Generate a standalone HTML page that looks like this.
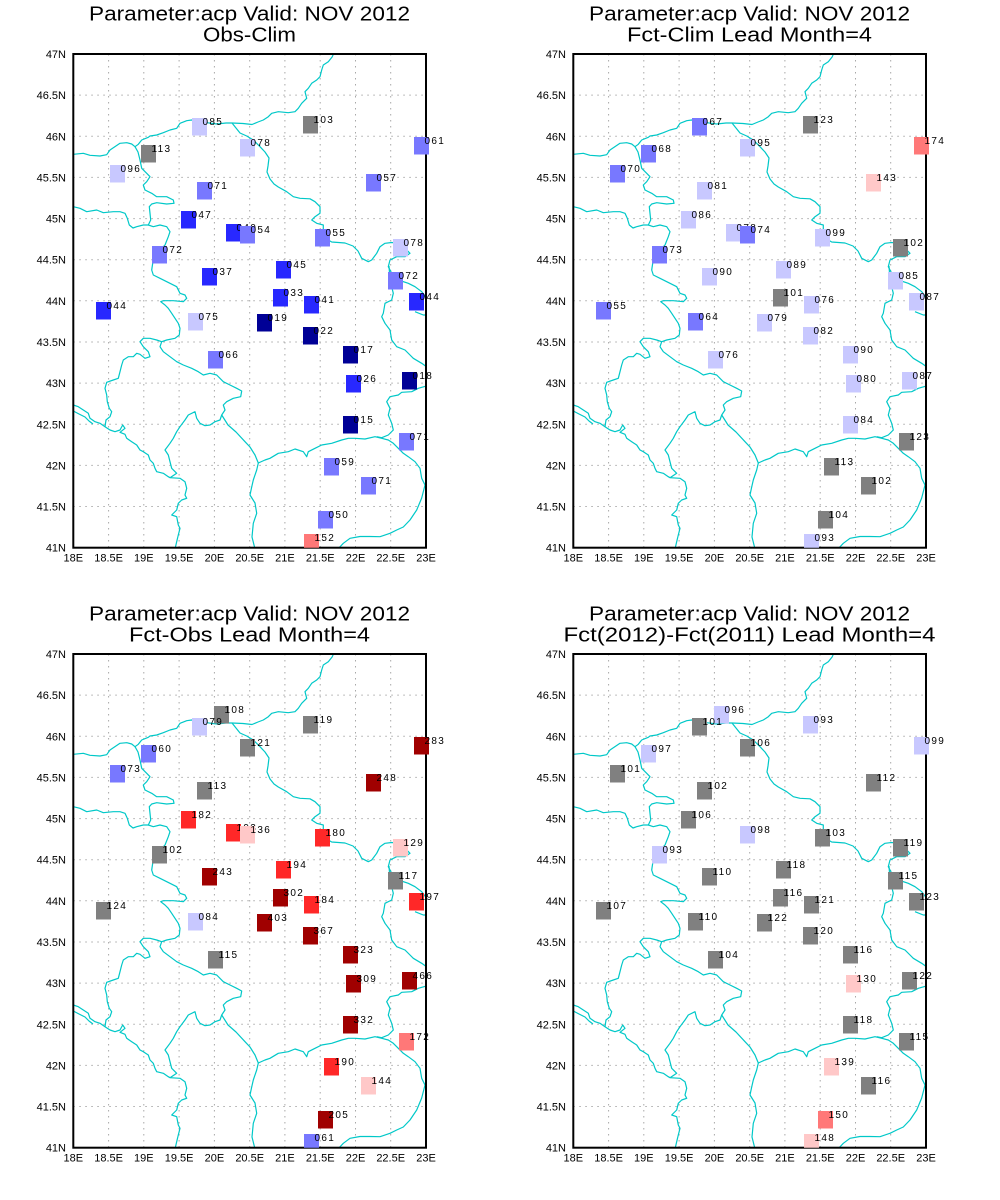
<!DOCTYPE html>
<html><head><meta charset="utf-8"><style>
html,body{margin:0;padding:0;background:#fff;}
svg{display:block;font-family:"Liberation Sans",sans-serif;}
.t1{font-size:20px;fill:#000;}
.yl{font-size:11px;text-anchor:end;}
.xl{font-size:11px;text-anchor:middle;}
.s{font-size:10px;letter-spacing:1.3px;fill:#000;}
.lv{fill:#c8c8ff}.md{fill:#7878ff}.br{fill:#2828ff}.nv{fill:#000096}.gr{fill:#808080}
.lp{fill:#ffc8c8}.sa{fill:#ff7878}.rd{fill:#ff2828}.dr{fill:#a00000}
</style></head><body>
<svg width="1000" height="1200" viewBox="0 0 1000 1200" xmlns="http://www.w3.org/2000/svg" xmlns:xlink="http://www.w3.org/1999/xlink">
<rect width="1000" height="1200" fill="#fff"/>
<defs>
<clipPath id="pc"><rect x="73.3" y="54" width="352.7" height="493.7"/></clipPath>
<clipPath id="sc"><rect x="40" y="40" width="440" height="507.7"/></clipPath>
<path id="grid" fill="none" stroke="#a8a8a8" stroke-width="1" stroke-dasharray="1.5 4.5" d="M108.6 54V547.7M143.8 54V547.7M179.1 54V547.7M214.4 54V547.7M249.7 54V547.7M284.9 54V547.7M320.2 54V547.7M355.5 54V547.7M390.7 54V547.7M73.3 95.1H426M73.3 136.3H426M73.3 177.4H426M73.3 218.6H426M73.3 259.7H426M73.3 300.8H426M73.3 342H426M73.3 383.1H426M73.3 424.3H426M73.3 465.4H426M73.3 506.5H426"/>
<g id="map" fill="none" stroke="#00c8c8" stroke-width="1.2" stroke-linejoin="round">
<polyline points="73.3,154.3 83.3,153.3 90,155.3 100,156 106.7,154.7 110,150 120,143.3 126.7,142.7 131.7,144 135,146.7 138.3,144.3 141.7,140 148.3,137.3 150,136 156.7,135 163.3,132.7 170,130 176.7,128.3 180,123.3 186.7,120.7 191.7,120 200,121 206.7,122.7 216.7,124 226,123 232,123 243,123.5 252,124.5 258,122 263.3,120 268.3,116.7 271.7,113.3 278.3,111.7 288.3,112.7 295,111.7 298.3,108.3 301.7,103.3 306.7,98.3 305,91.7 308.3,88.3 311.7,83.3 316.7,80 320,76.7 321.7,70 323.3,65 328.3,61.7 332.3,56.7 334.3,52"/>
<polyline points="232,123 236,128 240,133 246.7,136 253.3,140 260,146.7 265,152 269,158 268,166 267,172 270,179 274,184 278.3,187 286.7,191.7 293.3,196.7 300,198.3 310,198.8 315,201.7 320,206.7 320,213.3 315,216.7 311.7,220 316.7,223.3 323.3,225 323.3,231.7 325,238 331.7,242 345,243 353,246 358,251 361.7,258.3 368.3,261.7 371.7,260 376.7,253.3 380,246.7 385,243.3 391.7,242.5 398.3,243.3 405,248.3 410,253.3 405,256.7 396.7,256.7 390,260 388.3,266.7 391.7,273.3 398.3,280 408.3,283.3 415,286.7 421.7,291.7 426.7,298.3"/>
<polyline points="389,266 390,280 393.3,293.3 391.7,300 385,303.3 383.3,313.3 381.7,316.7 385,323.3 390,330 391.7,340 396.7,346.7 405,350 410,355 413.3,358.3 421.7,363.3 426.5,366.7"/>
<polyline points="415,311.7 423.3,315 426.5,315"/>
<polyline points="426.5,386 418.3,388.3 411.7,391.7 401.7,392.3 398.3,395 390,396.7 386.7,401.7 390,408.3 388.3,415 391.7,423.3 393.3,430 388.3,435 381.7,437.7 376.7,436.7"/>
<polyline points="135,146.7 138,152 140,160 141.7,168.3 146.7,173.3 150,176.7 146.7,181.7 143.3,185 145,190 151.7,193.3 156.7,196.7 166.7,196.7 173.3,200 174,203.3 166.7,204 156.7,202.7 151.7,204 149.3,206.7 150,213.3 150.7,220 148.3,225 153.3,226.7 160,225 166.7,226.7 170,231.7 168.3,236.7 165,245 156.7,253.3 152.7,263.3 151.7,270 153.3,275 160,278.3 170,283.3 176.7,286.7 180,293.3 185,295 186.7,298.3 183.3,301.7 173.3,300.7 163.3,300.7 160.7,301.7 165,305 168.3,308.3 171.7,313.3 175,318.3 178.3,323.3 180,328.3 179.3,335 175,338.3 166.7,340 161.7,341.7 160,346.7 163.3,351.7 170,356.7 176.7,361.7 183.3,365 191.7,368.3 198.3,371.7 203.3,375 210,373.3 216.7,375 223.3,381.7 230,385 236.7,388.3 241.7,391 240.7,396.7 233.3,398.3 226.7,401.7 223.3,405 225,410 221.7,415 220,420 215,421.7 210,425 205,425.7 200,423.3 196.7,418.3 195,411.7 188.3,415 185,420 180,426.7 176.7,431.7 173.3,438.3 170,443.3 165,450 168.3,455 170,461.7 171.7,468.3 176.7,473.3 170,477.7"/>
<polyline points="73.3,206.7 80,208.3 86.7,211.7 96.7,210 103.3,212.7 113.3,211.7 120,211.7 125,213.3 127.3,218.3 129.3,225 133,228 136.7,226.7 143.3,225 148.3,225"/>
<polyline points="161.7,341.7 156.7,340 150,338.3 143.3,338.3 140,341.7 143.3,346.7 148.3,351.7 150,356.7 145,358.3 140,354.3 136.7,353.3 133.3,356.7 128.3,356.7 123.3,360 121.7,365 120,371.7 118.3,378.3 113.3,380 106.7,382.3 105,388.3 106.7,395 107.3,401.7 109.3,408.3 111.7,411.7 110,416.7 106,420 105,426.7"/>
<polyline points="73.3,405 78.3,406.7 83.3,410 88.3,413.3 90,418.3 95,421.7 100,423.3 105,426.7 110,430 115,431.7 120,430 122.7,425 125,428.3 120,432.3 125,434.3 126.7,438.3 131.7,441.7 136.7,445 140,450 143.3,451.7 148.3,455 150,460 153.3,463.3 155,468.3 156.7,471.7 163.3,473.3 168.3,476.7 170,477.7 180,478.3 185,481.7 186.7,488.3 185,495 186.7,498.3 181.7,500 178.3,503.3 176.7,510 171.7,515 176.7,516.7 178.3,525 180,528.3 178.3,535 176.7,541.7 175,549"/>
<polyline points="73.3,411 79,414 85,417 89,421 93,424"/>
<polyline points="221.7,415 228,425 236,432 245,441.7 250,447 255,455 258.3,463 256.7,470 253.3,480 251.7,487 250,495 255,503 256.7,513.3 253.3,523.3 252,537 255,549"/>
<polyline points="258.3,463 265,460 270,458.3 278.3,453.3 288.3,451.7 295,449 303.3,451.7 306.7,456.7 308.3,451.7 315,448.3 321.7,445 331.7,443.3 341.7,440 348.3,438.3 355,438.3 365,439 375,436.7 381.7,438.3 388.3,440 393.3,443.3 398.3,448.3 403.3,453.3 408.3,456.7 415,461.7 420,468.3 421.7,478.3 425,485 421.7,498 416.7,510 410,520 403.3,527 396.7,530 390,533.3 380,536.7 370,536.5 360,536.5 350,538.3 343.3,543.3 338,549"/>
</g>
</defs>

<!-- ============ PANEL 1 ============ -->
<g>
<text class="t1" x="249.5" y="20.7" text-anchor="middle" textLength="321" lengthAdjust="spacingAndGlyphs">Parameter:acp Valid: NOV 2012</text>
<text class="t1" x="249.5" y="41.7" text-anchor="middle" textLength="93" lengthAdjust="spacingAndGlyphs">Obs-Clim</text>
<use xlink:href="#grid" href="#grid"/>
<use xlink:href="#map" href="#map" clip-path="url(#pc)"/>
<rect x="73.3" y="54" width="352.7" height="493.7" fill="none" stroke="#000" stroke-width="2"/>
<g class="yl"><text x="66" y="58">47N</text><text x="66" y="99.1">46.5N</text><text x="66" y="140.3">46N</text><text x="66" y="181.4">45.5N</text><text x="66" y="222.6">45N</text><text x="66" y="263.7">44.5N</text><text x="66" y="304.8">44N</text><text x="66" y="346">43.5N</text><text x="66" y="387.1">43N</text><text x="66" y="428.3">42.5N</text><text x="66" y="469.4">42N</text><text x="66" y="510.5">41.5N</text><text x="66" y="551.7">41N</text></g>
<g class="xl"><text x="73.3" y="561.7">18E</text><text x="108.6" y="561.7">18.5E</text><text x="143.8" y="561.7">19E</text><text x="179.1" y="561.7">19.5E</text><text x="214.4" y="561.7">20E</text><text x="249.7" y="561.7">20.5E</text><text x="284.9" y="561.7">21E</text><text x="320.2" y="561.7">21.5E</text><text x="355.5" y="561.7">22E</text><text x="390.7" y="561.7">22.5E</text><text x="426" y="561.7">23E</text></g>
<g clip-path="url(#sc)">
<rect class="lv" x="192" y="118" width="15" height="17.5"/><text class="s" x="202.5" y="125">085</text>
<rect class="gr" x="303" y="116" width="15" height="17.5"/><text class="s" x="313.5" y="123">103</text>
<rect class="md" x="414" y="137" width="15" height="17.5"/><text class="s" x="424.5" y="144">061</text>
<rect class="gr" x="141" y="145" width="15" height="17.5"/><text class="s" x="151.5" y="152">113</text>
<rect class="lv" x="240" y="139" width="15" height="17.5"/><text class="s" x="250.5" y="146">078</text>
<rect class="lv" x="110" y="165" width="15" height="17.5"/><text class="s" x="120.5" y="172">096</text>
<rect class="md" x="197" y="182" width="15" height="17.5"/><text class="s" x="207.5" y="189">071</text>
<rect class="md" x="366" y="174" width="15" height="17.5"/><text class="s" x="376.5" y="181">057</text>
<rect class="br" x="181" y="211" width="15" height="17.5"/><text class="s" x="191.5" y="218">047</text>
<rect class="br" x="226" y="224" width="15" height="17.5"/><text class="s" x="236.5" y="231">040</text>
<rect class="md" x="240" y="226" width="15" height="17.5"/><text class="s" x="250.5" y="233">054</text>
<rect class="md" x="315" y="229" width="15" height="17.5"/><text class="s" x="325.5" y="236">055</text>
<rect class="lv" x="393" y="239" width="15" height="17.5"/><text class="s" x="403.5" y="246">078</text>
<rect class="md" x="152" y="246" width="15" height="17.5"/><text class="s" x="162.5" y="253">072</text>
<rect class="br" x="202" y="268" width="15" height="17.5"/><text class="s" x="212.5" y="275">037</text>
<rect class="br" x="276" y="261" width="15" height="17.5"/><text class="s" x="286.5" y="268">045</text>
<rect class="md" x="388" y="272" width="15" height="17.5"/><text class="s" x="398.5" y="279">072</text>
<rect class="br" x="273" y="289" width="15" height="17.5"/><text class="s" x="283.5" y="296">033</text>
<rect class="br" x="304" y="296" width="15" height="17.5"/><text class="s" x="314.5" y="303">041</text>
<rect class="br" x="409" y="293" width="15" height="17.5"/><text class="s" x="419.5" y="300">044</text>
<rect class="br" x="96" y="302" width="15" height="17.5"/><text class="s" x="106.5" y="309">044</text>
<rect class="lv" x="188" y="313" width="15" height="17.5"/><text class="s" x="198.5" y="320">075</text>
<rect class="nv" x="257" y="314" width="15" height="17.5"/><text class="s" x="267.5" y="321">019</text>
<rect class="nv" x="303" y="327" width="15" height="17.5"/><text class="s" x="313.5" y="334">022</text>
<rect class="md" x="208" y="351" width="15" height="17.5"/><text class="s" x="218.5" y="358">066</text>
<rect class="nv" x="343" y="346" width="15" height="17.5"/><text class="s" x="353.5" y="353">017</text>
<rect class="br" x="346" y="375" width="15" height="17.5"/><text class="s" x="356.5" y="382">026</text>
<rect class="nv" x="402" y="372" width="15" height="17.5"/><text class="s" x="412.5" y="379">018</text>
<rect class="nv" x="343" y="416" width="15" height="17.5"/><text class="s" x="353.5" y="423">015</text>
<rect class="md" x="399" y="433" width="15" height="17.5"/><text class="s" x="409.5" y="440">071</text>
<rect class="md" x="324" y="458" width="15" height="17.5"/><text class="s" x="334.5" y="465">059</text>
<rect class="md" x="361" y="477" width="15" height="17.5"/><text class="s" x="371.5" y="484">071</text>
<rect class="md" x="318" y="511" width="15" height="17.5"/><text class="s" x="328.5" y="518">050</text>
<rect class="sa" x="304" y="534" width="15" height="17.5"/><text class="s" x="314.5" y="541">152</text>
</g>
</g>

<!-- ============ PANEL 2 ============ -->
<g transform="translate(500,0)">
<text class="t1" x="249.5" y="20.7" text-anchor="middle" textLength="321" lengthAdjust="spacingAndGlyphs">Parameter:acp Valid: NOV 2012</text>
<text class="t1" x="249.5" y="41.7" text-anchor="middle" textLength="245" lengthAdjust="spacingAndGlyphs">Fct-Clim Lead Month=4</text>
<use xlink:href="#grid" href="#grid"/>
<use xlink:href="#map" href="#map" clip-path="url(#pc)"/>
<rect x="73.3" y="54" width="352.7" height="493.7" fill="none" stroke="#000" stroke-width="2"/>
<g class="yl"><text x="66" y="58">47N</text><text x="66" y="99.1">46.5N</text><text x="66" y="140.3">46N</text><text x="66" y="181.4">45.5N</text><text x="66" y="222.6">45N</text><text x="66" y="263.7">44.5N</text><text x="66" y="304.8">44N</text><text x="66" y="346">43.5N</text><text x="66" y="387.1">43N</text><text x="66" y="428.3">42.5N</text><text x="66" y="469.4">42N</text><text x="66" y="510.5">41.5N</text><text x="66" y="551.7">41N</text></g>
<g class="xl"><text x="73.3" y="561.7">18E</text><text x="108.6" y="561.7">18.5E</text><text x="143.8" y="561.7">19E</text><text x="179.1" y="561.7">19.5E</text><text x="214.4" y="561.7">20E</text><text x="249.7" y="561.7">20.5E</text><text x="284.9" y="561.7">21E</text><text x="320.2" y="561.7">21.5E</text><text x="355.5" y="561.7">22E</text><text x="390.7" y="561.7">22.5E</text><text x="426" y="561.7">23E</text></g>
<g clip-path="url(#sc)">
<rect class="md" x="192" y="118" width="15" height="17.5"/><text class="s" x="202.5" y="125">067</text>
<rect class="gr" x="303" y="116" width="15" height="17.5"/><text class="s" x="313.5" y="123">123</text>
<rect class="sa" x="414" y="137" width="15" height="17.5"/><text class="s" x="424.5" y="144">174</text>
<rect class="md" x="141" y="145" width="15" height="17.5"/><text class="s" x="151.5" y="152">068</text>
<rect class="lv" x="240" y="139" width="15" height="17.5"/><text class="s" x="250.5" y="146">095</text>
<rect class="md" x="110" y="165" width="15" height="17.5"/><text class="s" x="120.5" y="172">070</text>
<rect class="lv" x="197" y="182" width="15" height="17.5"/><text class="s" x="207.5" y="189">081</text>
<rect class="lp" x="366" y="174" width="15" height="17.5"/><text class="s" x="376.5" y="181">143</text>
<rect class="lv" x="181" y="211" width="15" height="17.5"/><text class="s" x="191.5" y="218">086</text>
<rect class="lv" x="226" y="224" width="15" height="17.5"/><text class="s" x="236.5" y="231">078</text>
<rect class="md" x="240" y="226" width="15" height="17.5"/><text class="s" x="250.5" y="233">074</text>
<rect class="lv" x="315" y="229" width="15" height="17.5"/><text class="s" x="325.5" y="236">099</text>
<rect class="gr" x="393" y="239" width="15" height="17.5"/><text class="s" x="403.5" y="246">102</text>
<rect class="md" x="152" y="246" width="15" height="17.5"/><text class="s" x="162.5" y="253">073</text>
<rect class="lv" x="202" y="268" width="15" height="17.5"/><text class="s" x="212.5" y="275">090</text>
<rect class="lv" x="276" y="261" width="15" height="17.5"/><text class="s" x="286.5" y="268">089</text>
<rect class="lv" x="388" y="272" width="15" height="17.5"/><text class="s" x="398.5" y="279">085</text>
<rect class="gr" x="273" y="289" width="15" height="17.5"/><text class="s" x="283.5" y="296">101</text>
<rect class="lv" x="304" y="296" width="15" height="17.5"/><text class="s" x="314.5" y="303">076</text>
<rect class="lv" x="409" y="293" width="15" height="17.5"/><text class="s" x="419.5" y="300">087</text>
<rect class="md" x="96" y="302" width="15" height="17.5"/><text class="s" x="106.5" y="309">055</text>
<rect class="md" x="188" y="313" width="15" height="17.5"/><text class="s" x="198.5" y="320">064</text>
<rect class="lv" x="257" y="314" width="15" height="17.5"/><text class="s" x="267.5" y="321">079</text>
<rect class="lv" x="303" y="327" width="15" height="17.5"/><text class="s" x="313.5" y="334">082</text>
<rect class="lv" x="208" y="351" width="15" height="17.5"/><text class="s" x="218.5" y="358">076</text>
<rect class="lv" x="343" y="346" width="15" height="17.5"/><text class="s" x="353.5" y="353">090</text>
<rect class="lv" x="346" y="375" width="15" height="17.5"/><text class="s" x="356.5" y="382">080</text>
<rect class="lv" x="402" y="372" width="15" height="17.5"/><text class="s" x="412.5" y="379">087</text>
<rect class="lv" x="343" y="416" width="15" height="17.5"/><text class="s" x="353.5" y="423">084</text>
<rect class="gr" x="399" y="433" width="15" height="17.5"/><text class="s" x="409.5" y="440">123</text>
<rect class="gr" x="324" y="458" width="15" height="17.5"/><text class="s" x="334.5" y="465">113</text>
<rect class="gr" x="361" y="477" width="15" height="17.5"/><text class="s" x="371.5" y="484">102</text>
<rect class="gr" x="318" y="511" width="15" height="17.5"/><text class="s" x="328.5" y="518">104</text>
<rect class="lv" x="304" y="534" width="15" height="17.5"/><text class="s" x="314.5" y="541">093</text>
</g>
</g>

<!-- ============ PANEL 3 ============ -->
<g transform="translate(0,600)">
<text class="t1" x="249.5" y="20.7" text-anchor="middle" textLength="321" lengthAdjust="spacingAndGlyphs">Parameter:acp Valid: NOV 2012</text>
<text class="t1" x="249.5" y="41.7" text-anchor="middle" textLength="241" lengthAdjust="spacingAndGlyphs">Fct-Obs Lead Month=4</text>
<use xlink:href="#grid" href="#grid"/>
<use xlink:href="#map" href="#map" clip-path="url(#pc)"/>
<rect x="73.3" y="54" width="352.7" height="493.7" fill="none" stroke="#000" stroke-width="2"/>
<g class="yl"><text x="66" y="58">47N</text><text x="66" y="99.1">46.5N</text><text x="66" y="140.3">46N</text><text x="66" y="181.4">45.5N</text><text x="66" y="222.6">45N</text><text x="66" y="263.7">44.5N</text><text x="66" y="304.8">44N</text><text x="66" y="346">43.5N</text><text x="66" y="387.1">43N</text><text x="66" y="428.3">42.5N</text><text x="66" y="469.4">42N</text><text x="66" y="510.5">41.5N</text><text x="66" y="551.7">41N</text></g>
<g class="xl"><text x="73.3" y="561.7">18E</text><text x="108.6" y="561.7">18.5E</text><text x="143.8" y="561.7">19E</text><text x="179.1" y="561.7">19.5E</text><text x="214.4" y="561.7">20E</text><text x="249.7" y="561.7">20.5E</text><text x="284.9" y="561.7">21E</text><text x="320.2" y="561.7">21.5E</text><text x="355.5" y="561.7">22E</text><text x="390.7" y="561.7">22.5E</text><text x="426" y="561.7">23E</text></g>
<g clip-path="url(#sc)">
<rect class="gr" x="214" y="106" width="15" height="17.5"/><text class="s" x="224.5" y="113">108</text>
<rect class="lv" x="192" y="118" width="15" height="17.5"/><text class="s" x="202.5" y="125">079</text>
<rect class="gr" x="303" y="116" width="15" height="17.5"/><text class="s" x="313.5" y="123">119</text>
<rect class="dr" x="414" y="137" width="15" height="17.5"/><text class="s" x="424.5" y="144">283</text>
<rect class="md" x="141" y="145" width="15" height="17.5"/><text class="s" x="151.5" y="152">060</text>
<rect class="gr" x="240" y="139" width="15" height="17.5"/><text class="s" x="250.5" y="146">121</text>
<rect class="md" x="110" y="165" width="15" height="17.5"/><text class="s" x="120.5" y="172">073</text>
<rect class="gr" x="197" y="182" width="15" height="17.5"/><text class="s" x="207.5" y="189">113</text>
<rect class="dr" x="366" y="174" width="15" height="17.5"/><text class="s" x="376.5" y="181">248</text>
<rect class="rd" x="181" y="211" width="15" height="17.5"/><text class="s" x="191.5" y="218">182</text>
<rect class="rd" x="226" y="224" width="15" height="17.5"/><text class="s" x="236.5" y="231">193</text>
<rect class="lp" x="240" y="226" width="15" height="17.5"/><text class="s" x="250.5" y="233">136</text>
<rect class="rd" x="315" y="229" width="15" height="17.5"/><text class="s" x="325.5" y="236">180</text>
<rect class="lp" x="393" y="239" width="15" height="17.5"/><text class="s" x="403.5" y="246">129</text>
<rect class="gr" x="152" y="246" width="15" height="17.5"/><text class="s" x="162.5" y="253">102</text>
<rect class="dr" x="202" y="268" width="15" height="17.5"/><text class="s" x="212.5" y="275">243</text>
<rect class="rd" x="276" y="261" width="15" height="17.5"/><text class="s" x="286.5" y="268">194</text>
<rect class="gr" x="388" y="272" width="15" height="17.5"/><text class="s" x="398.5" y="279">117</text>
<rect class="dr" x="273" y="289" width="15" height="17.5"/><text class="s" x="283.5" y="296">302</text>
<rect class="rd" x="304" y="296" width="15" height="17.5"/><text class="s" x="314.5" y="303">184</text>
<rect class="rd" x="409" y="293" width="15" height="17.5"/><text class="s" x="419.5" y="300">197</text>
<rect class="gr" x="96" y="302" width="15" height="17.5"/><text class="s" x="106.5" y="309">124</text>
<rect class="lv" x="188" y="313" width="15" height="17.5"/><text class="s" x="198.5" y="320">084</text>
<rect class="dr" x="257" y="314" width="15" height="17.5"/><text class="s" x="267.5" y="321">403</text>
<rect class="dr" x="303" y="327" width="15" height="17.5"/><text class="s" x="313.5" y="334">367</text>
<rect class="gr" x="208" y="351" width="15" height="17.5"/><text class="s" x="218.5" y="358">115</text>
<rect class="dr" x="343" y="346" width="15" height="17.5"/><text class="s" x="353.5" y="353">323</text>
<rect class="dr" x="346" y="375" width="15" height="17.5"/><text class="s" x="356.5" y="382">309</text>
<rect class="dr" x="402" y="372" width="15" height="17.5"/><text class="s" x="412.5" y="379">466</text>
<rect class="dr" x="343" y="416" width="15" height="17.5"/><text class="s" x="353.5" y="423">332</text>
<rect class="sa" x="399" y="433" width="15" height="17.5"/><text class="s" x="409.5" y="440">172</text>
<rect class="rd" x="324" y="458" width="15" height="17.5"/><text class="s" x="334.5" y="465">190</text>
<rect class="lp" x="361" y="477" width="15" height="17.5"/><text class="s" x="371.5" y="484">144</text>
<rect class="dr" x="318" y="511" width="15" height="17.5"/><text class="s" x="328.5" y="518">205</text>
<rect class="md" x="304" y="534" width="15" height="17.5"/><text class="s" x="314.5" y="541">061</text>
</g>
</g>

<!-- ============ PANEL 4 ============ -->
<g transform="translate(500,600)">
<text class="t1" x="249.5" y="20.7" text-anchor="middle" textLength="321" lengthAdjust="spacingAndGlyphs">Parameter:acp Valid: NOV 2012</text>
<text class="t1" x="249.5" y="41.7" text-anchor="middle" textLength="372" lengthAdjust="spacingAndGlyphs">Fct(2012)-Fct(2011) Lead Month=4</text>
<use xlink:href="#grid" href="#grid"/>
<use xlink:href="#map" href="#map" clip-path="url(#pc)"/>
<rect x="73.3" y="54" width="352.7" height="493.7" fill="none" stroke="#000" stroke-width="2"/>
<g class="yl"><text x="66" y="58">47N</text><text x="66" y="99.1">46.5N</text><text x="66" y="140.3">46N</text><text x="66" y="181.4">45.5N</text><text x="66" y="222.6">45N</text><text x="66" y="263.7">44.5N</text><text x="66" y="304.8">44N</text><text x="66" y="346">43.5N</text><text x="66" y="387.1">43N</text><text x="66" y="428.3">42.5N</text><text x="66" y="469.4">42N</text><text x="66" y="510.5">41.5N</text><text x="66" y="551.7">41N</text></g>
<g class="xl"><text x="73.3" y="561.7">18E</text><text x="108.6" y="561.7">18.5E</text><text x="143.8" y="561.7">19E</text><text x="179.1" y="561.7">19.5E</text><text x="214.4" y="561.7">20E</text><text x="249.7" y="561.7">20.5E</text><text x="284.9" y="561.7">21E</text><text x="320.2" y="561.7">21.5E</text><text x="355.5" y="561.7">22E</text><text x="390.7" y="561.7">22.5E</text><text x="426" y="561.7">23E</text></g>
<g clip-path="url(#sc)">
<rect class="lv" x="214" y="106" width="15" height="17.5"/><text class="s" x="224.5" y="113">096</text>
<rect class="gr" x="192" y="118" width="15" height="17.5"/><text class="s" x="202.5" y="125">101</text>
<rect class="lv" x="303" y="116" width="15" height="17.5"/><text class="s" x="313.5" y="123">093</text>
<rect class="lv" x="414" y="137" width="15" height="17.5"/><text class="s" x="424.5" y="144">099</text>
<rect class="lv" x="141" y="145" width="15" height="17.5"/><text class="s" x="151.5" y="152">097</text>
<rect class="gr" x="240" y="139" width="15" height="17.5"/><text class="s" x="250.5" y="146">106</text>
<rect class="gr" x="110" y="165" width="15" height="17.5"/><text class="s" x="120.5" y="172">101</text>
<rect class="gr" x="197" y="182" width="15" height="17.5"/><text class="s" x="207.5" y="189">102</text>
<rect class="gr" x="366" y="174" width="15" height="17.5"/><text class="s" x="376.5" y="181">112</text>
<rect class="gr" x="181" y="211" width="15" height="17.5"/><text class="s" x="191.5" y="218">106</text>
<rect class="lv" x="240" y="226" width="15" height="17.5"/><text class="s" x="250.5" y="233">098</text>
<rect class="gr" x="315" y="229" width="15" height="17.5"/><text class="s" x="325.5" y="236">103</text>
<rect class="gr" x="393" y="239" width="15" height="17.5"/><text class="s" x="403.5" y="246">119</text>
<rect class="lv" x="152" y="246" width="15" height="17.5"/><text class="s" x="162.5" y="253">093</text>
<rect class="gr" x="202" y="268" width="15" height="17.5"/><text class="s" x="212.5" y="275">110</text>
<rect class="gr" x="276" y="261" width="15" height="17.5"/><text class="s" x="286.5" y="268">118</text>
<rect class="gr" x="388" y="272" width="15" height="17.5"/><text class="s" x="398.5" y="279">115</text>
<rect class="gr" x="273" y="289" width="15" height="17.5"/><text class="s" x="283.5" y="296">116</text>
<rect class="gr" x="304" y="296" width="15" height="17.5"/><text class="s" x="314.5" y="303">121</text>
<rect class="gr" x="409" y="293" width="15" height="17.5"/><text class="s" x="419.5" y="300">123</text>
<rect class="gr" x="96" y="302" width="15" height="17.5"/><text class="s" x="106.5" y="309">107</text>
<rect class="gr" x="188" y="313" width="15" height="17.5"/><text class="s" x="198.5" y="320">110</text>
<rect class="gr" x="257" y="314" width="15" height="17.5"/><text class="s" x="267.5" y="321">122</text>
<rect class="gr" x="303" y="327" width="15" height="17.5"/><text class="s" x="313.5" y="334">120</text>
<rect class="gr" x="208" y="351" width="15" height="17.5"/><text class="s" x="218.5" y="358">104</text>
<rect class="gr" x="343" y="346" width="15" height="17.5"/><text class="s" x="353.5" y="353">116</text>
<rect class="lp" x="346" y="375" width="15" height="17.5"/><text class="s" x="356.5" y="382">130</text>
<rect class="gr" x="402" y="372" width="15" height="17.5"/><text class="s" x="412.5" y="379">122</text>
<rect class="gr" x="343" y="416" width="15" height="17.5"/><text class="s" x="353.5" y="423">118</text>
<rect class="gr" x="399" y="433" width="15" height="17.5"/><text class="s" x="409.5" y="440">115</text>
<rect class="lp" x="324" y="458" width="15" height="17.5"/><text class="s" x="334.5" y="465">139</text>
<rect class="gr" x="361" y="477" width="15" height="17.5"/><text class="s" x="371.5" y="484">116</text>
<rect class="sa" x="318" y="511" width="15" height="17.5"/><text class="s" x="328.5" y="518">150</text>
<rect class="lp" x="304" y="534" width="15" height="17.5"/><text class="s" x="314.5" y="541">148</text>
</g>
</g>
</svg>
</body></html>
